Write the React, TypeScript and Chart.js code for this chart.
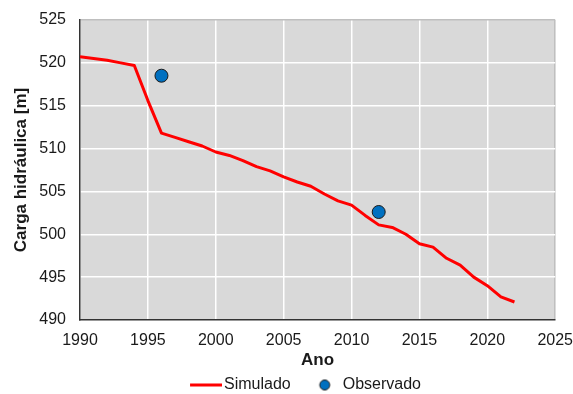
import React, { useEffect, useRef } from "react";
import { Chart, registerables } from "chart.js";

Chart.register(...registerables);

const years = [
  1990, 1991, 1992, 1993, 1994, 1995, 1996, 1997, 1998, 1999, 2000, 2001, 2002, 2003, 2004, 2005, 2006,
  2007, 2008, 2009, 2010, 2011, 2012, 2013, 2014, 2015, 2016, 2017, 2018, 2019, 2020, 2021, 2022,
];
const simulated = [
  520.7, 520.5, 520.3, 520.0, 519.7, 515.6, 511.8, 511.3, 510.8, 510.3, 509.6, 509.2, 508.6, 507.9, 507.4,
  506.7, 506.1, 505.6, 504.7, 503.9, 503.4, 502.2, 501.1, 500.8, 500.0, 498.9, 498.5, 497.2, 496.4, 495.0,
  494.0, 492.7, 492.1,
];
const obsYears = [1996, 2012];
const observed = [518.5, 502.6];
const seriesNames = ["Simulado", "Observado"];
const xTitle = "Ano";
const yTitle = "Carga hidráulica [m]";

export default function App() {
  const ref = useRef<HTMLCanvasElement>(null);

  useEffect(() => {
    if (!ref.current) return;
    const font = "'Liberation Sans', Arial, sans-serif";
    const textColor = "#1a1a1a";

    // legend marker images
    const lineImg = document.createElement("canvas");
    lineImg.width = 44;
    lineImg.height = 4;
    const lc = lineImg.getContext("2d")!;
    lc.fillStyle = "#FF0000";
    lc.fillRect(12, 0.5, 32, 3);

    const dotImg = document.createElement("canvas");
    dotImg.width = 30;
    dotImg.height = 13;
    const dc = dotImg.getContext("2d")!;
    dc.beginPath();
    dc.arc(21, 6.5, 5, 0, Math.PI * 2);
    dc.fillStyle = "#0070C0";
    dc.fill();
    dc.lineWidth = 1;
    dc.strokeStyle = "#1a1a1a";
    dc.stroke();

    const bgPlugin = {
      id: "plotBg",
      beforeDraw(chart: any) {
        const { ctx, chartArea: a } = chart;
        ctx.save();
        ctx.fillStyle = "#D9D9D9";
        ctx.fillRect(a.left, a.top, a.right - a.left, a.bottom - a.top);
        ctx.restore();
      },
    };

    const legendShift = {
      id: "legendShift",
      afterLayout(chart: any) {
        const l = chart.legend;
        if (!l) return;
        l.left += 14;
        l.right += 14;
        l.top -= 6;
      },
    };

    const chart = new Chart(ref.current, {
      type: "line",
      data: {
        datasets: [
          {
            label: seriesNames[0],
            data: years.map((y, i) => ({ x: y, y: simulated[i] })),
            borderColor: "#FF0000",
            backgroundColor: "#FF0000",
            borderWidth: 3,
            pointRadius: 0,
            tension: 0,
            borderJoinStyle: "round",
            order: 2,
          },
          {
            label: seriesNames[1],
            type: "scatter",
            data: obsYears.map((y, i) => ({ x: y, y: observed[i] })),
            backgroundColor: "#0070C0",
            borderColor: "#1a1a1a",
            borderWidth: 1,
            pointRadius: 6.5,
            showLine: false,
            order: 1,
          } as any,
        ],
      },
      options: {
        animation: false,
        responsive: true,
        maintainAspectRatio: false,
        layout: { padding: { top: 20, right: 0, left: 4, bottom: 0 } },
        plugins: {
          tooltip: { enabled: false },
          legend: {
            position: "bottom",
            maxHeight: 23,
            labels: {
              usePointStyle: true,
              pointStyleWidth: 32,
              boxHeight: 16,
              padding: 12,
              color: textColor,
              font: { family: font, size: 16 },
              generateLabels: () => [
                {
                  text: seriesNames[0],
                  pointStyle: lineImg as any,
                  fillStyle: "#FF0000",
                  strokeStyle: "#FF0000",
                  lineWidth: 0,
                  hidden: false,
                  datasetIndex: 0,
                  fontColor: textColor,
                },
                {
                  text: seriesNames[1],
                  pointStyle: dotImg as any,
                  fillStyle: "#0070C0",
                  strokeStyle: "#1a1a1a",
                  lineWidth: 0,
                  hidden: false,
                  datasetIndex: 1,
                  fontColor: textColor,
                },
              ],
            },
          },
        },
        scales: {
          x: {
            type: "linear",
            min: 1990,
            max: 2025,
            afterFit: (s: any) => {
              s.height = 51;
            },
            ticks: {
              stepSize: 5,
              padding: 0,
              color: textColor,
              font: { family: font, size: 16 },
              callback: (v: any) => String(v),
            },
            grid: {
              color: (c: any) => (c.tick && c.tick.value === 2025 ? "#bfbfbf" : "#ffffff"),
              lineWidth: 1.5,
              drawTicks: true,
              tickLength: 11,
              tickColor: "rgba(0,0,0,0)",
            },
            border: { display: true, color: "#333333", width: 1.5 },
            title: {
              display: true,
              text: xTitle,
              color: textColor,
              font: { family: font, size: 17, weight: "bold" },
              padding: { top: 0, bottom: 0 },
            },
          },
          y: {
            type: "linear",
            min: 490,
            max: 525,
            afterFit: (s: any) => {
              s.width = 76;
            },
            ticks: {
              stepSize: 5,
              padding: 0,
              color: textColor,
              font: { family: font, size: 16 },
              callback: (v: any) => String(v),
            },
            grid: {
              color: (c: any) => (c.tick && c.tick.value === 525 ? "#bfbfbf" : "#ffffff"),
              lineWidth: 1.5,
              drawTicks: true,
              tickLength: 14,
              tickColor: "rgba(0,0,0,0)",
            },
            border: { display: true, color: "#333333", width: 1.5 },
            title: {
              display: true,
              text: yTitle,
              color: textColor,
              font: { family: font, size: 17, weight: "bold" },
              padding: { top: 7, bottom: 4 },
            },
          },
        },
      },
      plugins: [bgPlugin, legendShift],
    });

    return () => chart.destroy();
  }, []);

  return (
    <div style={{ position: "fixed", left: 0, top: 0, width: 573, height: 394, background: "#fff" }}>
      <canvas ref={ref} />
    </div>
  );
}
